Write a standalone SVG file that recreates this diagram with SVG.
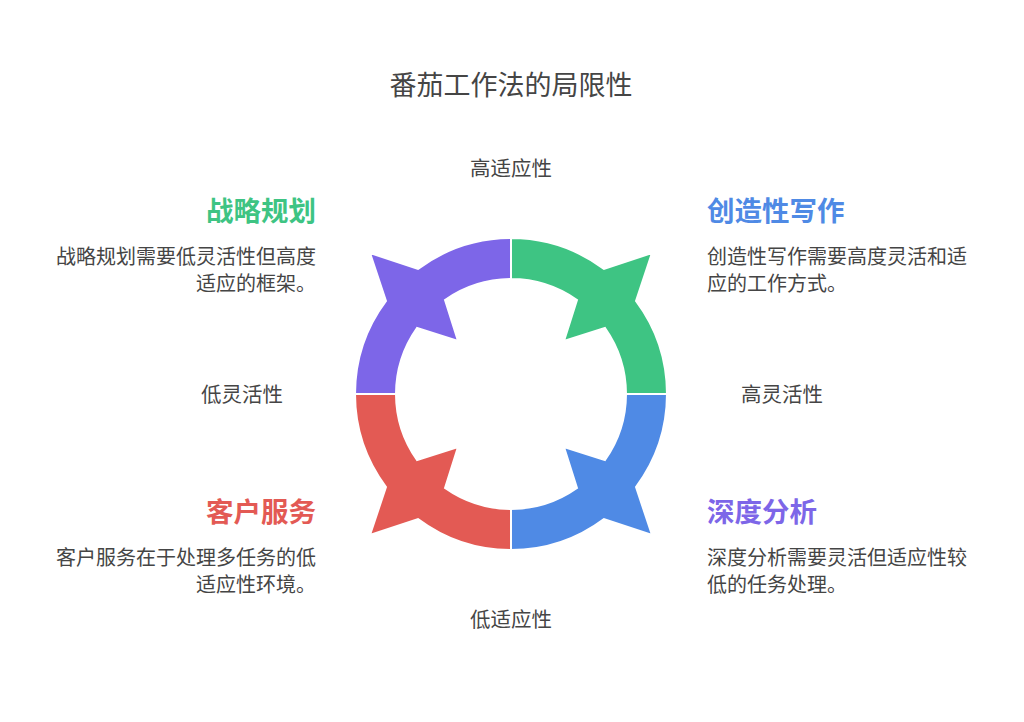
<svg xmlns="http://www.w3.org/2000/svg" width="1024" height="722" viewBox="0 0 1024 722">
<style>
text{font-family:"Noto Sans CJK SC","Noto Sans",sans-serif;fill:#454545}
.t{font-size:27px}
.a{font-size:20.5px;text-anchor:middle}
.h{font-size:27.5px;font-weight:bold}
.d{font-size:20px}
.r{text-anchor:end}
.seg{stroke:#fff;stroke-width:2}
</style>
<defs>
<path id="q" d="M0,-156 A156,156 0 0 1 93,-125 L141,-141 L125,-93 A156,156 0 0 1 156,0 L115,0 A115,115 0 0 0 94,-66 L53,-53 L66,-94 A115,115 0 0 0 0,-115 Z"/>
</defs>
<rect width="1024" height="722" fill="#fff"/>
<text class="t" x="511" y="95" text-anchor="middle">番茄工作法的局限性</text>
<g id="ring" transform="translate(511,394)">
<use href="#q" class="seg" fill="#3EC483"/>
<use href="#q" class="seg" fill="#4F8AE5" transform="rotate(90)"/>
<use href="#q" class="seg" fill="#E35A54" transform="rotate(180)"/>
<use href="#q" class="seg" fill="#7D66E8" transform="rotate(270)"/>
</g>
<g id="axes">
<text class="a" x="511" y="176">高适应性</text>
<text class="a" x="511" y="627">低适应性</text>
<text class="a" x="242" y="402">低灵活性</text>
<text class="a" x="782" y="402">高灵活性</text>
</g>
<g id="n1"><text class="h r" x="316" y="221" style="fill:#3EC483">战略规划</text>
<text class="d r" x="316" y="264">战略规划需要低灵活性但高度</text>
<text class="d r" x="316" y="291">适应的框架。</text></g>
<g id="n2"><text class="h" x="707" y="221" style="fill:#4F8AE5">创造性写作</text>
<text class="d" x="707" y="264">创造性写作需要高度灵活和适</text>
<text class="d" x="707" y="291">应的工作方式。</text></g>
<g id="n3"><text class="h r" x="316" y="522" style="fill:#E35A54">客户服务</text>
<text class="d r" x="316" y="565">客户服务在于处理多任务的低</text>
<text class="d r" x="316" y="592">适应性环境。</text></g>
<g id="n4"><text class="h" x="707" y="522" style="fill:#7D66E8">深度分析</text>
<text class="d" x="707" y="565">深度分析需要灵活但适应性较</text>
<text class="d" x="707" y="592">低的任务处理。</text></g>
</svg>
